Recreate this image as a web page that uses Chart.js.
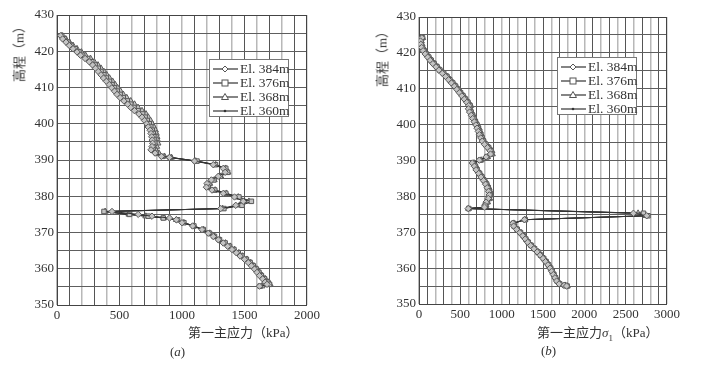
<!DOCTYPE html>
<html lang="zh">
<head>
<meta charset="UTF-8">
<title>第一主应力分布</title>
<script src="https://cdn.jsdelivr.net/npm/chart.js"></script>
<style>
  body { margin: 0; background: #fff; width: 701px; height: 377px; position: relative; overflow: hidden;
         font-family: 'Liberation Serif', 'Noto Sans CJK SC', serif; color: #333; }
  canvas { position: absolute; top: 0; }
  #cA { left: 0; }
  #cB { left: 350px; }
  .txt { position: absolute; white-space: nowrap; font-size: 13px; line-height: 13px; }
  .ytitle { transform: translate(-50%, -50%) rotate(-90deg); }
  .legend { position: absolute; background: #fff; border: 1px solid #777; width: 78px; height: 56px; }
  .legend div { position: absolute; left: 3px; height: 14px; font-size: 13.5px; line-height: 14px; white-space: nowrap; }
  .legend svg { vertical-align: top; margin-right: 2px; }
</style>
</head>
<body>
<canvas id="cA" width="350" height="377"></canvas>
<canvas id="cB" width="351" height="377"></canvas>

<div class="txt ytitle" style="left:19px; top:51px;">高程（m）</div>
<div class="txt ytitle" style="left:382px; top:56px;">高程（m）</div>
<div class="txt" style="left:188px; top:326px;">第一主应力（kPa）</div>
<div class="txt" style="left:537px; top:326px;">第一主应力<i>σ</i><sub style="font-size:9px">1</sub>（kPa）</div>
<div class="txt" style="left:170px; top:345px;">(<i>a</i>)</div>
<div class="txt" style="left:541px; top:344px;">(<i>b</i>)</div>
<div class="legend" id="legA" style="left:209px; top:59px;"></div>
<div class="legend" id="legB" style="left:557px; top:57px;"></div>

<script>
// series names
const seriesNames = ['El. 384m', 'El. 376m', 'El. 368m', 'El. 360m'];

// (a) elevation (m) of each computed point
const elevA = [
  424.3, 423.4, 422.5, 421.6, 420.7, 419.8, 418.9, 418.0, 417.1, 416.2,
  415.3, 414.4, 413.5, 412.6, 411.7, 410.8, 409.9, 409.0, 408.1, 407.2,
  406.3, 405.4, 404.5, 403.6, 402.7, 401.8, 400.9, 400.0, 399.1, 398.2,
  397.3, 396.4, 395.5, 394.6, 393.7, 392.8, 391.9, 391.0, 390.7, 389.7,
  388.7, 387.7, 386.6, 385.5, 384.5, 383.5, 382.5, 381.7, 380.8, 379.8,
  378.6, 377.5, 376.6, 375.8, 375.0, 374.5, 374.0, 373.5, 372.7, 371.8,
  370.8, 369.8, 368.9, 368.0, 367.1, 366.2, 365.3, 364.4, 363.5, 362.6,
  361.7, 360.8, 359.9, 359.0, 358.1, 357.2, 356.3, 355.7, 355.2
];
// (a) first principal stress (kPa)
const a384 = [
  30, 45, 72, 98, 128, 160, 188, 225, 258, 285,
  308, 330, 352, 372, 395, 418, 438, 460, 480, 505,
  535, 565, 590, 620, 655, 680, 700, 718, 730, 745,
  752, 758, 762, 765, 760, 752, 785, 835, 900, 1100,
  1250, 1330, 1345, 1290, 1235, 1200, 1195, 1240, 1330, 1420,
  1490, 1430, 1310, 440, 650, 760, 900, 955, 1000, 1085,
  1160, 1210, 1250, 1290, 1330, 1365, 1400, 1435, 1465, 1500,
  1530, 1555, 1580, 1600, 1620, 1645, 1665, 1680, 1620
];
const a376 = [
  38, 60, 88, 112, 145, 176, 205, 245, 278, 305,
  330, 352, 375, 395, 420, 440, 460, 482, 505, 530,
  562, 590, 615, 648, 685, 705, 722, 738, 750, 762,
  770, 775, 780, 782, 772, 768, 795, 845, 905, 1120,
  1268, 1350, 1365, 1305, 1255, 1220, 1210, 1262, 1350, 1455,
  1555, 1480, 1335, 376, 580, 730, 850, 965, 1015, 1095,
  1170, 1220, 1260, 1300, 1345, 1380, 1415, 1450, 1480, 1515,
  1545, 1570, 1595, 1615, 1635, 1660, 1685, 1700, 1625
];
const a368 = [
  40, 70, 100, 128, 160, 195, 228, 268, 298, 328,
  352, 375, 398, 420, 445, 465, 485, 508, 530, 558,
  590, 620, 648, 680, 712, 730, 748, 762, 775, 788,
  795, 800, 805, 808, 798, 790, 815, 860, 915, 1110,
  1270, 1350, 1368, 1310, 1258, 1222, 1212, 1265, 1355, 1450,
  1535, 1460, 1325, 385, 575, 710, 855, 955, 1015, 1098,
  1172, 1222, 1262, 1302, 1348, 1385, 1420, 1455, 1485, 1520,
  1550, 1575, 1600, 1620, 1642, 1668, 1695, 1705, 1640
];
const a360 = [
  36, 65, 95, 120, 152, 186, 216, 256, 288, 316,
  342, 365, 386, 408, 432, 452, 472, 495, 518, 545,
  575, 602, 628, 662, 698, 718, 735, 748, 762, 775,
  782, 788, 792, 795, 785, 778, 805, 852, 912, 1115,
  1262, 1342, 1358, 1302, 1252, 1218, 1208, 1258, 1348, 1442,
  1530, 1462, 1328, 382, 565, 718, 858, 958, 1012, 1092,
  1168, 1218, 1258, 1298, 1342, 1378, 1412, 1448, 1478, 1512,
  1542, 1568, 1592, 1612, 1634, 1660, 1688, 1700, 1632
];

// (b) elevation (m)
const elevB = [
  424.2, 423.3, 422.4, 421.5, 420.6, 419.7, 418.8, 417.9, 417.0, 416.1,
  415.2, 414.3, 413.4, 412.5, 411.6, 410.7, 409.8, 408.9, 408.0, 407.1,
  406.2, 405.3, 404.4, 403.5, 402.6, 401.7, 400.8, 399.9, 399.0, 398.1,
  397.2, 396.3, 395.4, 394.5, 393.6, 392.7, 391.8, 391.0, 390.1, 389.3,
  388.4, 387.4, 386.4, 385.4, 384.4, 383.4, 382.4, 381.4, 380.4, 379.4,
  378.4, 377.5, 377.0, 376.6, 375.3, 374.6, 373.5, 372.5, 371.7, 370.8,
  369.9, 369.0, 368.1, 367.2, 366.3, 365.4, 364.5, 363.6, 362.7, 361.8,
  360.9, 360.0, 359.1, 358.2, 357.3, 356.4, 355.6, 355.2, 355.0
];
// (b) first principal stress sigma1 (kPa)
const b384 = [
  35, 18, 22, 32, 50, 75, 105, 135, 168, 205,
  240, 282, 322, 358, 392, 428, 458, 488, 518, 548,
  578, 602, 598, 612, 632, 650, 668, 688, 702, 718,
  730, 748, 765, 792, 828, 860, 865, 812, 730, 645,
  670, 690, 722, 750, 780, 805, 825, 842, 850, 838,
  812, 795, 792, 595, 2594, 2755, 1275, 1135, 1145, 1180,
  1220, 1255, 1285, 1315, 1350, 1390, 1430, 1465, 1500, 1530,
  1560, 1585, 1605, 1625, 1645, 1665, 1695, 1755, 1785
];
const b376 = [
  42, 24, 30, 42, 62, 88, 118, 148, 182, 218,
  252, 298, 338, 372, 408, 442, 472, 502, 532, 562,
  592, 618, 612, 628, 648, 665, 682, 702, 718, 732,
  745, 762, 780, 808, 842, 872, 878, 822, 742, 658,
  682, 702, 732, 762, 792, 818, 838, 852, 860, 848,
  822, 802, 802, 602, 2715, 2770, 1285, 1142, 1152, 1188,
  1228, 1262, 1292, 1322, 1358, 1398, 1438, 1472, 1508, 1538,
  1568, 1592, 1612, 1632, 1652, 1672, 1702, 1762, 1792
];
const b368 = [
  45, 28, 36, 50, 72, 98, 128, 158, 192, 228,
  262, 308, 348, 382, 418, 452, 482, 512, 542, 572,
  602, 628, 622, 638, 658, 675, 692, 712, 728, 742,
  755, 772, 790, 818, 852, 882, 888, 830, 752, 665,
  692, 712, 742, 772, 802, 828, 848, 862, 870, 856,
  830, 812, 810, 598, 2650, 2740, 1282, 1148, 1158, 1195,
  1235, 1270, 1300, 1330, 1365, 1405, 1445, 1480, 1515, 1545,
  1575, 1598, 1618, 1638, 1658, 1678, 1708, 1768, 1795
];
const b360 = [
  40, 22, 28, 40, 60, 85, 115, 145, 180, 215,
  250, 295, 335, 370, 405, 440, 470, 500, 530, 560,
  590, 615, 610, 625, 645, 662, 680, 700, 715, 730,
  742, 760, 778, 805, 840, 870, 875, 820, 740, 655,
  680, 700, 730, 760, 790, 815, 835, 850, 858, 845,
  820, 800, 800, 600, 2700, 2760, 1280, 1140, 1150, 1185,
  1225, 1260, 1290, 1320, 1355, 1395, 1435, 1470, 1505, 1535,
  1565, 1590, 1610, 1630, 1650, 1670, 1700, 1760, 1790
];

const markers = [
  { pointStyle: 'rectRot', pointRadius: 3.2 },
  { pointStyle: 'rect', pointRadius: 3.2 },
  { pointStyle: 'triangle', pointRadius: 3.4 },
  { pointStyle: 'circle', pointRadius: 1.4 }
];

function makeSets(elev, lists) {
  return lists.map((vals, k) => ({
    label: seriesNames[k],
    data: vals.map((v, i) => ({ x: v, y: elev[i] })),
    showLine: true,
    borderColor: '#333',
    borderWidth: 1,
    pointBorderColor: k === 3 ? '#333' : '#5a5a5a',
    pointBackgroundColor: k === 3 ? '#333' : '#c4c4c4',
    pointBorderWidth: 1,
    pointStyle: markers[k].pointStyle,
    pointRadius: markers[k].pointRadius
  }));
}

// draw the box round the plot
const frame = {
  id: 'frame',
  beforeDatasetsDraw(c) {
    const a = c.chartArea, ctx = c.ctx;
    ctx.save();
    ctx.strokeStyle = '#444';
    ctx.lineWidth = 1;
    ctx.strokeRect(Math.round(a.left) + 0.5, Math.round(a.top) + 0.5,
                   Math.round(a.width) - 1, Math.round(a.height));
    ctx.restore();
  }
};

function makeChart(id, sets, xMax, pad, yWidth) {
  const tickFont = { family: "'Liberation Serif', serif", size: 13 };
  return new Chart(document.getElementById(id), {
    type: 'scatter',
    data: { datasets: sets },
    options: {
      responsive: false,
      animation: false,
      devicePixelRatio: 1,
      layout: { padding: pad },
      plugins: { legend: { display: false }, tooltip: { enabled: false } },
      scales: {
        x: {
          type: 'linear', min: 0, max: xMax,
          afterFit: s => { s.height = 20; },
          border: { display: false },
          grid: {
            drawTicks: false,
            color: c => (c.tick && c.tick.value % 200 === 100) ? '#555' : '#b8b8b8',
            lineWidth: c => (c.tick && c.tick.value % 200 === 100) ? 1 : 1.5
          },
          ticks: {
            stepSize: 100, autoSkip: false, maxRotation: 0, padding: 3,
            color: '#333', font: tickFont,
            callback: v => (v % 500 === 0 ? String(v) : '')
          }
        },
        y: {
          type: 'linear', min: 350, max: 430,
          afterFit: s => { s.width = yWidth; },
          border: { display: false },
          grid: { drawTicks: false, color: '#5e5e5e', lineWidth: 1 },
          ticks: {
            stepSize: 5, autoSkip: false, padding: 3,
            color: '#333', font: tickFont,
            callback: v => (v % 10 === 0 ? String(v) : '')
          }
        }
      }
    },
    plugins: [frame]
  });
}

makeChart('cA', makeSets(elevA, [a384, a376, a368, a360]), 2000,
  { left: 0, top: 15, right: 43, bottom: 52 }, 57);
makeChart('cB', makeSets(elevB, [b384, b376, b368, b360]), 3000,
  { left: 0, top: 17, right: 34, bottom: 53 }, 69);

// legends inside the plots
const legendIcons = [
  '<polygon points="12,2 15,5 12,8 9,5" fill="#fff" stroke="#555"/>',
  '<rect x="9" y="2" width="6" height="6" fill="#fff" stroke="#555"/>',
  '<polygon points="12,1.5 15.5,7.5 8.5,7.5" fill="#fff" stroke="#555"/>',
  '<circle cx="12" cy="5" r="1.3" fill="#333"/>'
];
function buildLegend(id) {
  const box = document.getElementById(id);
  seriesNames.forEach((name, k) => {
    const row = document.createElement('div');
    row.style.top = (2 + k * 14) + 'px';
    row.innerHTML = '<svg width="25" height="14" viewBox="0 -2 25 14">' +
      '<line x1="0" y1="5" x2="25" y2="5" stroke="#333" stroke-width="1.2"/>' +
      legendIcons[k] + '</svg>' + name;
    box.appendChild(row);
  });
}
buildLegend('legA');
buildLegend('legB');
</script>
</body>
</html>
